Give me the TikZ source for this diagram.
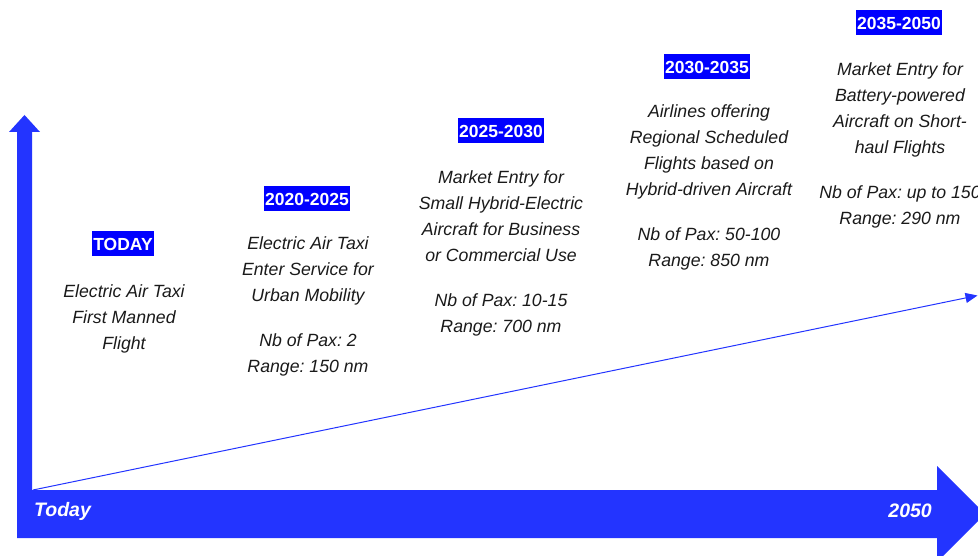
\documentclass[tikz,border=0pt]{standalone}
\usepackage{fontspec}
\setmainfont{Liberation Sans}
\usetikzlibrary{arrows.meta}
\definecolor{barblue}{HTML}{2334FF}
\definecolor{tagblue}{HTML}{0000FF}
\definecolor{txt}{HTML}{1A1A1A}
\frenchspacing
\tikzset{
  tag/.style={fill=tagblue, text=white, font=\fontsize{17.5}{20}\selectfont\bfseries,
    inner xsep=1.5pt, inner ysep=0pt, minimum height=25pt, text height=12.6pt, text depth=0pt},
  desc/.style={anchor=north, align=center, inner sep=0pt, text=txt,
    font=\fontsize{17.7}{26}\selectfont\itshape\frenchspacing},
  axislabel/.style={text=white, font=\fontsize{19.5}{22}\selectfont\bfseries\itshape, inner sep=0pt},
  trend/.style={draw=barblue, line width=1pt, -{Triangle[length=12pt,width=10pt]}}
}
\begin{document}
\begin{tikzpicture}[x=1pt,y=1pt]
\useasboundingbox (0,0) rectangle (978,555);
% vertical axis arrow
\fill[barblue] (17,63) -- (17,423) -- (9,423) -- (24.5,440) -- (40,423) -- (32,423) -- (32,63) -- cycle;
% horizontal axis arrow
\fill[barblue] (17,17) -- (17,65) -- (937,65) -- (937,89) -- (985,41) -- (937,-7) -- (937,17) -- cycle;
\node[axislabel, anchor=west] (today) at (34,44) {Today};
\node[axislabel, anchor=east] (y2050) at (932,44) {2050};
% trend line
\coordinate (origin) at (33,65);
\coordinate (trendend) at (977.5,259.5);
\draw[trend] (origin) -- (trendend);
% tags
\node[tag] (t1) at (123,311) {TODAY};
\node[tag] (t2) at (307,356) {2020-2025};
\node[tag] (t3) at (501,424) {2025-2030};
\node[tag] (t4) at (707,488) {2030-2035};
\node[tag] (t5) at (899,532) {2035-2050};
% descriptions
\node[desc] (d1) at (124,276) {\strut Electric Air Taxi\\First Manned\\Flight};
\node[desc] (d2) at (308,324) {\strut Electric Air Taxi\\Enter Service for\\Urban Mobility\\[19pt]Nb of Pax: 2\\Range: 150 nm};
\node[desc] (d3) at (501,390) {\strut Market Entry for\\Small Hybrid-Electric\\Aircraft for Business\\or Commercial Use\\[19pt]Nb of Pax: 10-15\\Range: 700 nm};
\node[desc] (d4) at (709,456) {\strut Airlines offering\\Regional Scheduled\\Flights based on\\Hybrid-driven Aircraft\\[19pt]Nb of Pax: 50-100\\Range: 850 nm};
\node[desc] (d5) at (900,498) {\strut Market Entry for\\Battery-powered\\Aircraft on Short-\\haul Flights\\[19pt]Nb of Pax: up to 150\\Range: 290 nm};
\end{tikzpicture}
\end{document}
